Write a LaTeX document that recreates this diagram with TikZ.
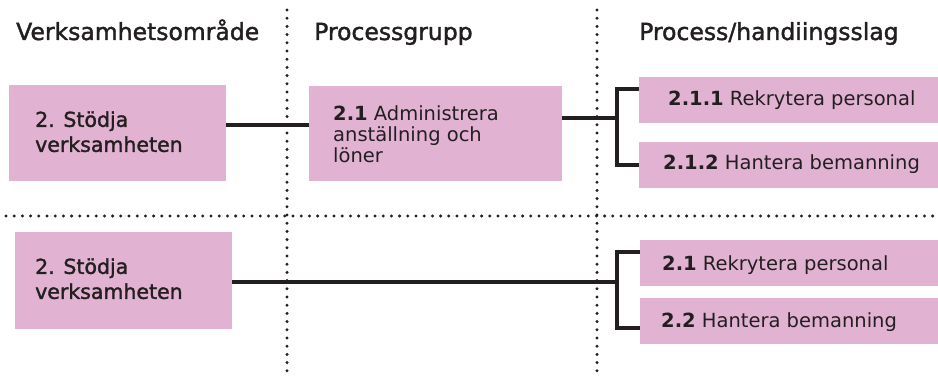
\documentclass[tikz,border=0pt]{standalone}
\usepackage{fontspec}
\setmainfont{DejaVu Sans}
\newfontfamily\medfont{DejaVu Sans}[FakeBold=1.6]
\definecolor{boxpink}{RGB}{226,178,211}
\definecolor{ink}{RGB}{35,31,32}
\tikzset{
  box/.style={rectangle, fill=boxpink, draw=none, inner sep=0pt, anchor=north west},
  head/.style={anchor=base west, inner sep=0pt, text=ink, font=\medfont\fontsize{23.5}{27}\selectfont},
  areatxt/.style={anchor=west, inner sep=0pt, text=ink, align=left, font=\medfont\fontsize{20.5}{25}\selectfont},
  grptxt/.style={anchor=west, inner sep=0pt, text=ink, align=left, font=\fontsize{19.5}{21}\selectfont},
  proctxt/.style={anchor=base west, inner sep=0pt, text=ink, font=\fontsize{19.5}{21}\selectfont},
  conn/.style={draw=ink, line width=3.1pt, line join=miter},
  sep/.style={draw=ink, line width=3.3pt, line cap=round, dash pattern=on 0pt off 8.2pt}
}
\begin{document}
\begin{tikzpicture}[x=1pt, y=-1pt]
\useasboundingbox (0,0) rectangle (938,377);

% separators between columns and rows
\coordinate (v1t) at (287,10);  \coordinate (v1b) at (287,377);
\coordinate (v2t) at (597,10);  \coordinate (v2b) at (597,377);
\coordinate (hl) at (6,216);    \coordinate (hr) at (938,216);
\draw[sep] (v1t) -- (v1b);
\draw[sep] (v2t) -- (v2b);
\draw[sep] (hl) -- (hr);

% column headings
\node[head] (h1) at (16,40) {Verksamhetsområde};
\node[head] (h2) at (314,40) {Processgrupp};
\node[head] (h3) at (639,40) {Process/handiingsslag};

% upper row
\node[box, minimum width=217pt, minimum height=96pt] (a1) at (9,85) {};
\node[areatxt] (a1t) at (35,131.7) {2. Stödja\\verksamheten};

\node[box, minimum width=253pt, minimum height=95pt] (b) at (309,86) {};
\node[grptxt] (bt) at (333,133.8) {\textbf{2.1} Administrera\\anställning och\\löner};

\node[box, minimum width=299pt, minimum height=46pt] (c1) at (639,77) {};
\node[proctxt] (c1t) at (668,106) {\textbf{2.1.1} Rekrytera personal};
\node[box, minimum width=299pt, minimum height=46pt] (c2) at (639,142) {};
\node[proctxt] (c2t) at (663,170) {\textbf{2.1.2} Hantera bemanning};

% lower row
\node[box, minimum width=217pt, minimum height=97pt] (a2) at (15,232) {};
\node[areatxt] (a2t) at (35,278.7) {2. Stödja\\verksamheten};

\node[box, minimum width=298pt, minimum height=46pt] (d1) at (640,240) {};
\node[proctxt] (d1t) at (662,270) {\textbf{2.1} Rekrytera personal};
\node[box, minimum width=298pt, minimum height=46pt] (d2) at (640,298) {};
\node[proctxt] (d2t) at (661,327) {\textbf{2.2} Hantera bemanning};

% connectors
\coordinate (ja) at (0,125);
\draw[conn] (a1.east |- ja) -- (b.west |- ja);

\coordinate (f1) at (617,118);
\coordinate (f1u) at (0,89);
\coordinate (f1d) at (0,165);
\draw[conn] (b.east |- f1) -- (f1);
\draw[conn] (c1.west |- f1u) -| (f1) |- (c2.west |- f1d);

\coordinate (f2) at (617,282);
\coordinate (f2u) at (0,252);
\coordinate (f2d) at (0,328);
\draw[conn] (a2.east |- f2) -- (f2);
\draw[conn] (d1.west |- f2u) -| (f2) |- (d2.west |- f2d);
\end{tikzpicture}
\end{document}
